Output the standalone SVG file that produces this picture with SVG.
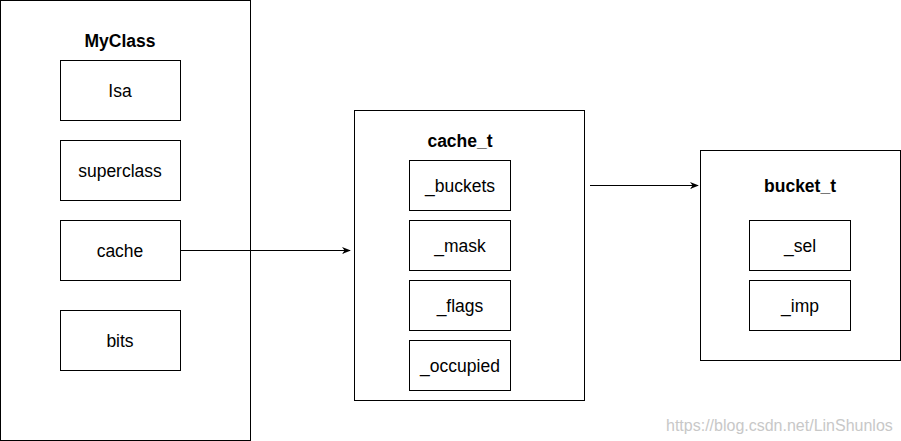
<svg xmlns="http://www.w3.org/2000/svg" width="901" height="441" viewBox="0 0 901 441">
<style>
rect{fill:#fff;stroke:#000;stroke-width:1}
text{font-family:"Liberation Sans",Arial,sans-serif;font-size:17.5px;text-anchor:middle;fill:#000}
.t{font-weight:bold}
.c{stroke:#000;stroke-width:1;fill:none}
.wm{font-size:16px;fill:#c8c8c8;text-anchor:start}
</style>
<defs>
<marker id="ah" viewBox="0 0 10 10" refX="9" refY="5" markerWidth="9" markerHeight="9" markerUnits="userSpaceOnUse" orient="auto">
<path d="M0,1 L10,5 L0,9 L3,5 Z" fill="#000"/>
</marker>
</defs>
<rect width="901" height="441" fill="#fff" stroke="none" style="stroke:none"/>
<g id="myclass">
<rect x="0.5" y="0.5" width="250" height="440"/>
<text class="t" x="120" y="47">MyClass</text>
</g>
<g id="isa"><rect x="60.5" y="60.5" width="120" height="60"/><text x="120" y="97">Isa</text></g>
<g id="superclass"><rect x="60.5" y="140.5" width="120" height="60"/><text x="120" y="177">superclass</text></g>
<g id="cache"><rect x="60.5" y="220.5" width="120" height="60"/><text x="120" y="257">cache</text></g>
<g id="bits"><rect x="60.5" y="310.5" width="120" height="60"/><text x="120" y="347">bits</text></g>
<g id="cache_t">
<rect x="354.5" y="110.5" width="230" height="290"/>
<text class="t" x="460" y="147">cache_t</text>
</g>
<g id="buckets"><rect x="409.5" y="160.5" width="101" height="50"/><text x="460" y="192">_buckets</text></g>
<g id="mask"><rect x="409.5" y="220.5" width="101" height="50"/><text x="460" y="252">_mask</text></g>
<g id="flags"><rect x="409.5" y="280.5" width="101" height="50"/><text x="460" y="312">_flags</text></g>
<g id="occupied"><rect x="409.5" y="340.5" width="101" height="50"/><text x="460" y="372">_occupied</text></g>
<g id="bucket_t">
<rect x="700.5" y="150.5" width="200" height="210"/>
<text class="t" x="800" y="192">bucket_t</text>
</g>
<g id="sel"><rect x="749.5" y="220.5" width="101" height="50"/><text x="800" y="252">_sel</text></g>
<g id="imp"><rect x="749.5" y="280.5" width="101" height="50"/><text x="800" y="312">_imp</text></g>
<g id="connectors">
<path class="c" d="M180.5,250.5 H350" marker-end="url(#ah)"/>
<path class="c" d="M590,185.5 H698" marker-end="url(#ah)"/>
</g>
<text class="wm" x="666" y="431">https://blog.csdn.net/LinShunlos</text>
</svg>
